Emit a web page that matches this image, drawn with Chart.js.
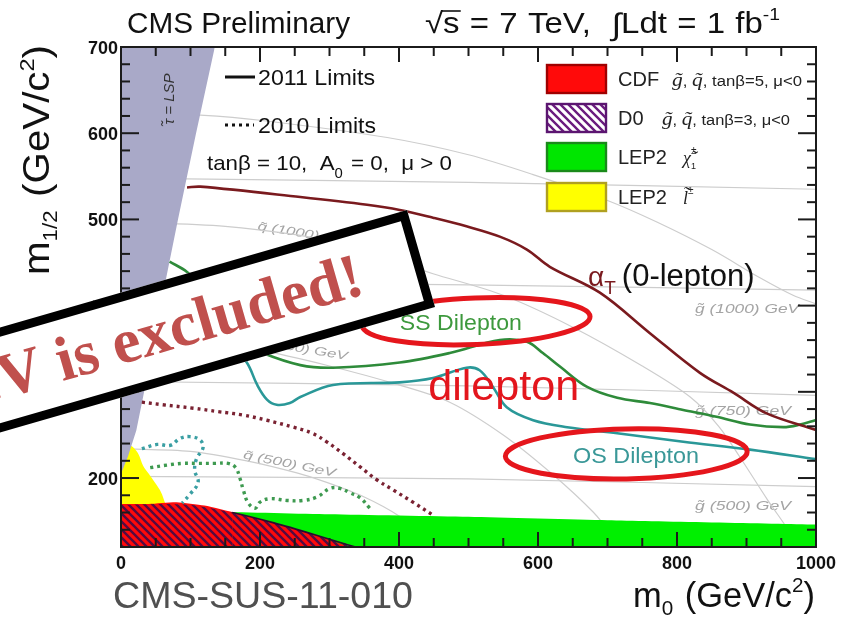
<!DOCTYPE html>
<html>
<head>
<meta charset="utf-8">
<title>CMS SUS-11-010 mSUGRA exclusion</title>
<script src="https://cdn.jsdelivr.net/npm/chart.js@4.4.1/dist/chart.umd.min.js"></script>
<style>
html,body{margin:0;padding:0;background:#fff;overflow:hidden}
#wrap{width:856px;height:622px;position:relative}
</style>
</head>
<body>
<div id="wrap"><canvas id="plot" width="856" height="622"></canvas></div>
<script>
// ---- axis ranges and tick labels ----
const M0_RANGE = [0, 1000];
const M12_RANGE = [120, 700];
const xTickLabels = [0, 200, 400, 600, 800, 1000];
const yTickLabels = [200, 300, 400, 500, 600, 700];

// ---- 2011 limits, points are [m0, m1/2] in GeV ----
const alphaT2011 = [[95,537],[114,538],[258,526],[354,517],[401,511],[449,502],[497,492],[545,480],[584,465],[617,445],[689,415],[761,368],[833,322],[881,299],[929,275],[999,256]];
const ssDilepton2011 = [[70,451],[95,439],[128,413],[164,378],[186,354],[204,345],[258,331],[305,328],[401,334],[473,345],[545,360],[584,358],[607,345],[632,329],[670,306],[714,293],[761,287],[809,279],[857,271],[905,262],[953,259],[977,262],[999,267]];
const osDilepton2011 = [[42,407],[99,378],[157,354],[181,334],[196,308],[210,291],[224,285],[243,287],[258,294],[305,308],[401,311],[449,316],[497,328],[516,325],[535,306],[555,282],[593,267],[642,259],[714,252],[809,242],[905,233],[999,222]];

// ---- 2010 limits ----
const alphaT2010 = [[30,288],[60,285],[104,281],[140,277],[176,273],[210,267],[248,259],[275,252],[296,242],[320,228],[344,213],[368,198],[392,186],[420,172],[449,157]];
const osDilepton2010 = [[30,234],[52,239],[71,238],[85,246],[99,248],[114,244],[118,235],[109,223],[106,209],[111,195],[99,181],[88,171]];
const ssDilepton2010 = [[42,212],[66,215],[88,217],[111,217],[135,217],[154,217],[165,212],[171,200],[176,186],[183,171],[193,165],[200,172],[214,176],[239,174],[262,174],[282,178],[301,188],[315,188],[329,183],[344,177],[358,165]];

// ---- earlier excluded regions ----
const lep2Chargino = [[140,161],[300,158],[500,155],[700,151],[1000,146]];
const lep2Slepton = [[0,238],[10,238],[17,236],[25,228],[32,214],[40,205],[46,198],[52,191],[56,186],[60,179],[63,172],[66,166]];
const cdfRegion = [[0,170],[40,170],[80,172],[120,168],[167,159],[210,150],[250,141],[290,131],[315,124],[330,120]];
const d0Region = [[0,169],[60,170],[100,169],[160,160],[220,148],[280,134],[320,124],[338,120]];
const stauLSP = [[0,205],[10,225],[22,255],[32,295],[57,400],[82,500],[108,600],[135,700]];

// ---- iso-mass contours ----
const squark500 = [[0,234],[100,231],[181,220],[253,206],[296,195],[350,178],[400,156],[440,130],[450,120]];
const squark750 = [[0,360],[100,357],[200,348],[300,330],[400,308],[473,288],[550,250],[620,205],[680,160],[710,130],[718,120]];
const squark1000 = [[0,497],[150,492],[300,475],[449,437],[550,412],[650,375],[750,330],[819,294],[860,260],[890,225],[930,175],[960,140],[975,120]];
const squark1250 = [[0,625],[114,621],[200,615],[383,595],[500,575],[593,552],[700,522],[771,497],[850,465],[920,432],[967,412],[1000,402]];
const gluino500 = [[0,202],[500,199],[1000,190]];
const gluino750 = [[0,312],[500,307],[1000,296]];
const gluino1000 = [[0,428],[500,424],[1000,418]];
const gluino1250 = [[0,548],[500,543],[1000,535]];

const SANS = '"Liberation Sans", Arial, Helvetica, sans-serif';
const SERIF = '"Liberation Serif", "Times New Roman", serif';
const F = (px, w) => (w ? w + ' ' : '') + px + 'px ' + SANS;

const pts = arr => arr.map(([x, y]) => ({x, y}));

function hatchPattern(color, bg) {
  const t = document.createElement('canvas');
  t.width = t.height = 8;
  const g = t.getContext('2d');
  if (bg) { g.fillStyle = bg; g.fillRect(0, 0, 8, 8); }
  g.strokeStyle = color; g.lineWidth = 2.4;
  g.beginPath();
  g.moveTo(-2, -2); g.lineTo(10, 10);
  g.moveTo(-2, 6); g.lineTo(2, 10);
  g.moveTo(6, -2); g.lineTo(10, 2);
  g.stroke();
  return document.getElementById('plot').getContext('2d').createPattern(t, 'repeat');
}

function line(ctx, x1, y1, x2, y2) { ctx.beginPath(); ctx.moveTo(x1, y1); ctx.lineTo(x2, y2); ctx.stroke(); }

// text made of styled pieces; opt.width squeezes/stretches the run to a given length
function rich(ctx, x, y, parts, opt) {
  opt = opt || {};
  let w = 0;
  parts.forEach(p => {
    ctx.font = p.font;
    p.w = (p.adv !== undefined) ? p.adv : ctx.measureText(p.t).width + (p.gap || 0);
    w += p.w;
  });
  const sx = opt.width ? opt.width / w : 1;
  const start = opt.align === 'right' ? x - w * sx : opt.align === 'center' ? x - w * sx / 2 : x;
  ctx.save();
  ctx.textAlign = 'left'; ctx.textBaseline = 'alphabetic';
  ctx.translate(start, y); ctx.scale(sx, 1);
  let cx = 0;
  parts.forEach(p => {
    ctx.font = p.font;
    ctx.fillStyle = p.color || opt.color || '#111';
    ctx.fillText(p.t, cx, p.dy || 0);
    if (p.over) {
      ctx.strokeStyle = ctx.fillStyle; ctx.lineWidth = 1.6;
      line(ctx, cx - 1, p.over, cx + ctx.measureText(p.t).width + 1, p.over);
    }
    cx += p.w;
  });
  ctx.restore();
}

const isoStyle = {borderColor: '#cdcdcd', borderWidth: 1.2, tension: 0.3, order: 100};
const region = (data, color, fill, order, extra) => Object.assign({
  data: pts(data), borderWidth: 0, borderColor: 'rgba(0,0,0,0)', backgroundColor: color,
  fill, tension: 0.2, pointRadius: 0, order
}, extra || {});
const curve = (data, color, extra) => Object.assign({
  data: pts(data), borderColor: color, borderWidth: 2.6, pointRadius: 0, fill: false, tension: 0.35
}, extra || {});
const dotted = {borderDash: [3, 4], borderWidth: 3.4, borderCapStyle: 'butt', order: 50, tension: 0.4};

const datasets = [
  // iso-mass contours
  curve(squark500, '#cdcdcd', isoStyle), curve(squark750, '#cdcdcd', isoStyle),
  curve(squark1000, '#cdcdcd', isoStyle), curve(squark1250, '#cdcdcd', isoStyle),
  curve(gluino500, '#cdcdcd', isoStyle), curve(gluino750, '#cdcdcd', isoStyle),
  curve(gluino1000, '#cdcdcd', isoStyle), curve(gluino1250, '#cdcdcd', isoStyle),
  // earlier exclusions
  region(lep2Chargino, '#00f000', 'start', 90),
  region(lep2Slepton, '#ffff00', 'start', 89, {tension: 0.3}),
  region(cdfRegion, '#ff0a0a', 'start', 88),
  region(d0Region, hatchPattern('rgba(55,10,75,0.85)'), 'start', 87, {
    borderWidth: 1.6,
    segment: {borderColor: c => c.p0.parsed.x >= 150 ? '#2a0a30' : 'rgba(0,0,0,0)'}
  }),
  region(stauLSP, '#a9a9c8', 'end', 86, {tension: 0}),
  // 2010 limits
  curve(alphaT2010, '#7a2232', dotted),
  curve(osDilepton2010, '#3a9fa3', dotted),
  curve(ssDilepton2010, '#3e9a50', dotted),
  // 2011 limits
  curve(alphaT2011, '#7a1a1e', {order: 40}),
  curve(ssDilepton2011, '#2e8b3a', {order: 41}),
  curve(osDilepton2011, '#2a9898', {order: 42})
];

// annotation anchors, in (m0, m1/2) units
const ssEllipse = {m0: 511, m12: 382, rx: 164, ry: 27, rot: -0.04};
const osEllipse = {m0: 727, m12: 228, rx: 174, ry: 29, rot: -0.02};

const decorations = {
  id: 'decorations',
  beforeDatasetsDraw(chart) {
    const ctx = chart.ctx, xs = chart.scales.x, ys = chart.scales.y;
    const P = (a, b) => [xs.getPixelForValue(a), ys.getPixelForValue(b)];
    ctx.save();
    const iso = (s, m0, m12, rot, w, align) => {
      const [px, py] = P(m0, m12);
      ctx.save(); ctx.translate(px, py); ctx.rotate(rot);
      rich(ctx, 0, 0, [{t: s, font: 'italic 12px ' + SANS}], {color: '#a4a4a4', width: w, align});
      ctx.restore();
    };
    iso('g\u0303 (1000) GeV', 826, 392, 0, 104);
    iso('g\u0303 (750) GeV', 826, 273, 0, 96);
    iso('g\u0303 (500) GeV', 826, 163, 0, 96);
    iso('q\u0303 (500) GeV', 175, 223, 0.2, 94);
    iso('q\u0303 (750) GeV', 325, 337, 0.17, 92, 'right');
    iso('q\u0303 (1000) GeV', 196, 488, 0.16, 100);
    ctx.restore();
  },
  afterDatasetsDraw(chart) {
    const ctx = chart.ctx, xs = chart.scales.x, ys = chart.scales.y, a = chart.chartArea;
    const P = (m0, m12) => [xs.getPixelForValue(m0), ys.getPixelForValue(m12)];
    ctx.save();

    // stau LSP label inside the wedge
    ctx.save(); ctx.translate(174, 99); ctx.rotate(-Math.PI / 2);
    rich(ctx, 0, 0, [{t: '\u03c4\u0303 = LSP', font: 'italic 15px ' + SANS}], {align: 'center', color: '#333'});
    ctx.restore();

    // frame and inward ticks
    ctx.strokeStyle = '#1b1b1b'; ctx.lineWidth = 2;
    ctx.strokeRect(a.left, a.top, a.right - a.left, a.bottom - a.top);
    for (let v = M0_RANGE[0]; v <= M0_RANGE[1]; v += 50) {
      const px = xs.getPixelForValue(v), L = v % 200 === 0 ? 15 : 9;
      line(ctx, px, a.bottom, px, a.bottom - L);
      line(ctx, px, a.top, px, a.top + L);
    }
    for (let v = M12_RANGE[0]; v <= M12_RANGE[1]; v += 20) {
      const py = ys.getPixelForValue(v), L = v % 100 === 0 ? 18 : 9;
      line(ctx, a.left, py, a.left + L, py);
      line(ctx, a.right, py, a.right - L, py);
    }
    // tick labels
    ctx.fillStyle = '#111'; ctx.font = F(18, 'bold');
    ctx.textAlign = 'right'; ctx.textBaseline = 'alphabetic';
    yTickLabels.forEach(v => ctx.fillText(String(v), a.left - 3, ys.getPixelForValue(v) + 7));
    ctx.textAlign = 'center';
    xTickLabels.forEach(v => ctx.fillText(String(v), xs.getPixelForValue(v), a.bottom + 22));

    // header
    rich(ctx, 127, 33, [{t: 'CMS Preliminary', font: F(29.5)}], {width: 223, color: '#111'});
    const H = F(29), sp = {t: ' ', font: H, adv: 9};
    rich(ctx, 425, 33, [
      {t: '\u221a', font: H}, {t: 's', font: H, over: -22}, sp, {t: '=', font: H}, sp, {t: '7', font: H}, sp,
      {t: 'TeV,', font: H}, sp, sp, {t: '\u222b', font: '31px ' + SANS, dy: 2}, {t: 'Ldt', font: H}, sp,
      {t: '=', font: H}, sp, {t: '1', font: H}, sp, {t: 'fb', font: H}, {t: '-1', font: F(17), dy: -13}
    ], {color: '#111', width: 355});

    // axis titles
    ctx.save(); ctx.translate(49, 160); ctx.rotate(-Math.PI / 2);
    rich(ctx, 0, 0, [
      {t: 'm', font: F(36)}, {t: '1/2', font: F(20), dy: 8, gap: 2}, {t: ' (GeV/c', font: F(36)},
      {t: '2', font: F(21), dy: -15}, {t: ')', font: F(36)}
    ], {align: 'center', width: 230, color: '#111'});
    ctx.restore();
    rich(ctx, 815, 607, [
      {t: 'm', font: F(35)}, {t: '0', font: F(21), dy: 8, gap: 2}, {t: ' (GeV/c', font: F(35)},
      {t: '2', font: F(21), dy: -15}, {t: ')', font: F(35)}
    ], {align: 'right', width: 182, color: '#111'});
    rich(ctx, 113, 608, [{t: 'CMS-SUS-11-010', font: F(37)}], {width: 300, color: '#505050'});

    // limit legend (top left)
    ctx.strokeStyle = '#111'; ctx.lineWidth = 3;
    line(ctx, 225, 77, 255, 77);
    ctx.setLineDash([3, 4]); line(ctx, 225, 125, 254, 125); ctx.setLineDash([]);
    rich(ctx, 258, 85, [{t: '2011 Limits', font: F(22)}], {width: 117});
    rich(ctx, 258, 133, [{t: '2010 Limits', font: F(22)}], {width: 118});
    rich(ctx, 207, 170, [
      {t: 'tan\u03b2 = 10,  A', font: F(21)}, {t: '0', font: F(14), dy: 8, gap: 2}, {t: ' = 0,  \u03bc > 0', font: F(21)}
    ], {width: 245});

    // excluded-region legend (top right)
    const boxes = [
      {y: 65, fill: '#ff0a0a', edge: '#a00000'},
      {y: 104, fill: hatchPattern('#6a1b7e', '#ffffff'), edge: '#5b1570'},
      {y: 143, fill: '#00e600', edge: '#1a8a1a'},
      {y: 183, fill: '#ffff00', edge: '#b0a020'}
    ];
    boxes.forEach(b => {
      ctx.fillStyle = b.fill; ctx.fillRect(547, b.y, 59, 28);
      ctx.strokeStyle = b.edge; ctx.lineWidth = 2.4; ctx.strokeRect(547, b.y, 59, 28);
    });
    const it = 'italic 18px ' + SERIF, sm = F(14);
    rich(ctx, 618, 86, [{t: 'CDF', font: F(20)}], {color: '#222'});
    rich(ctx, 672, 86, [{t: 'g\u0303', font: it}, {t: ', ', font: sm}, {t: 'q\u0303', font: it}, {t: ', tan\u03b2=5, \u03bc<0', font: sm}], {width: 130, color: '#222'});
    rich(ctx, 618, 125, [{t: 'D0', font: F(20)}], {color: '#222'});
    rich(ctx, 662, 125, [{t: 'g\u0303', font: it}, {t: ', ', font: sm}, {t: 'q\u0303', font: it}, {t: ', tan\u03b2=3, \u03bc<0', font: sm}], {width: 128, color: '#222'});
    rich(ctx, 618, 164, [{t: 'LEP2', font: F(20)}], {color: '#222'});
    rich(ctx, 683, 164, [{t: '\u03c7\u0303', font: it}, {t: '\u00b1', font: F(10), dy: -10, adv: 0}, {t: '1', font: F(9), dy: 5}], {color: '#222'});
    rich(ctx, 618, 204, [{t: 'LEP2', font: F(20)}], {color: '#222'});
    rich(ctx, 683, 204, [{t: 'l\u0303', font: it}, {t: '\u00b1', font: F(10), dy: -10}], {color: '#222'});

    // analysis labels
    let p = P(672, 423);
    rich(ctx, p[0], p[1], [
      {t: '\u03b1', font: F(28), color: '#7a1a1e'}, {t: 'T', font: F(19), dy: 8, color: '#7a1a1e', gap: 6},
      {t: '(0-lepton)', font: F(31), color: '#111'}
    ]);
    p = P(489, 372);
    rich(ctx, p[0], p[1], [{t: 'SS Dilepton', font: F(22)}], {align: 'center', width: 122, color: '#3d993d'});
    p = P(442, 291);
    rich(ctx, p[0], p[1], [{t: 'dilepton', font: F(43)}], {width: 151, color: '#e3161d'});
    p = P(741, 217);
    rich(ctx, p[0], p[1], [{t: 'OS Dilepton', font: F(22)}], {align: 'center', width: 126, color: '#3a9898'});

    // red rings around the dilepton results
    [ssEllipse, osEllipse].forEach(e => {
      const [cx, cy] = P(e.m0, e.m12);
      const rx = xs.getPixelForValue(e.m0 + e.rx) - cx;
      const ry = ys.getPixelForValue(e.m12 - e.ry) - cy;
      ctx.strokeStyle = '#e5161c'; ctx.lineWidth = 5;
      ctx.beginPath(); ctx.ellipse(cx, cy, rx, ry, e.rot, 0, Math.PI * 2); ctx.stroke();
    });
    ctx.restore();
  },
  afterDraw(chart) {
    // tilted banner across the left half
    const ctx = chart.ctx;
    ctx.save();
    ctx.translate(407, 210); ctx.rotate(-0.281);
    ctx.fillStyle = '#ffffff'; ctx.fillRect(-700, 0, 700, 101);
    ctx.strokeStyle = '#000'; ctx.lineWidth = 9; ctx.strokeRect(-700, 4.5, 695.5, 92);
    ctx.font = 'bold 63px ' + SERIF; ctx.fillStyle = '#c0504d';
    ctx.textAlign = 'right'; ctx.textBaseline = 'alphabetic';
    ctx.fillText('GeV is excluded!', -62, 69);
    ctx.restore();
  }
};

new Chart(document.getElementById('plot'), {
  type: 'line',
  data: {datasets},
  options: {
    responsive: false,
    animation: false,
    devicePixelRatio: 1,
    events: [],
    layout: {padding: {left: 121, right: 40, top: 47, bottom: 75}},
    scales: {
      x: {type: 'linear', min: M0_RANGE[0], max: M0_RANGE[1], display: false},
      y: {type: 'linear', min: M12_RANGE[0], max: M12_RANGE[1], display: false}
    },
    elements: {point: {radius: 0}},
    plugins: {legend: {display: false}, tooltip: {enabled: false}}
  },
  plugins: [decorations]
});
</script>
</body>
</html>
